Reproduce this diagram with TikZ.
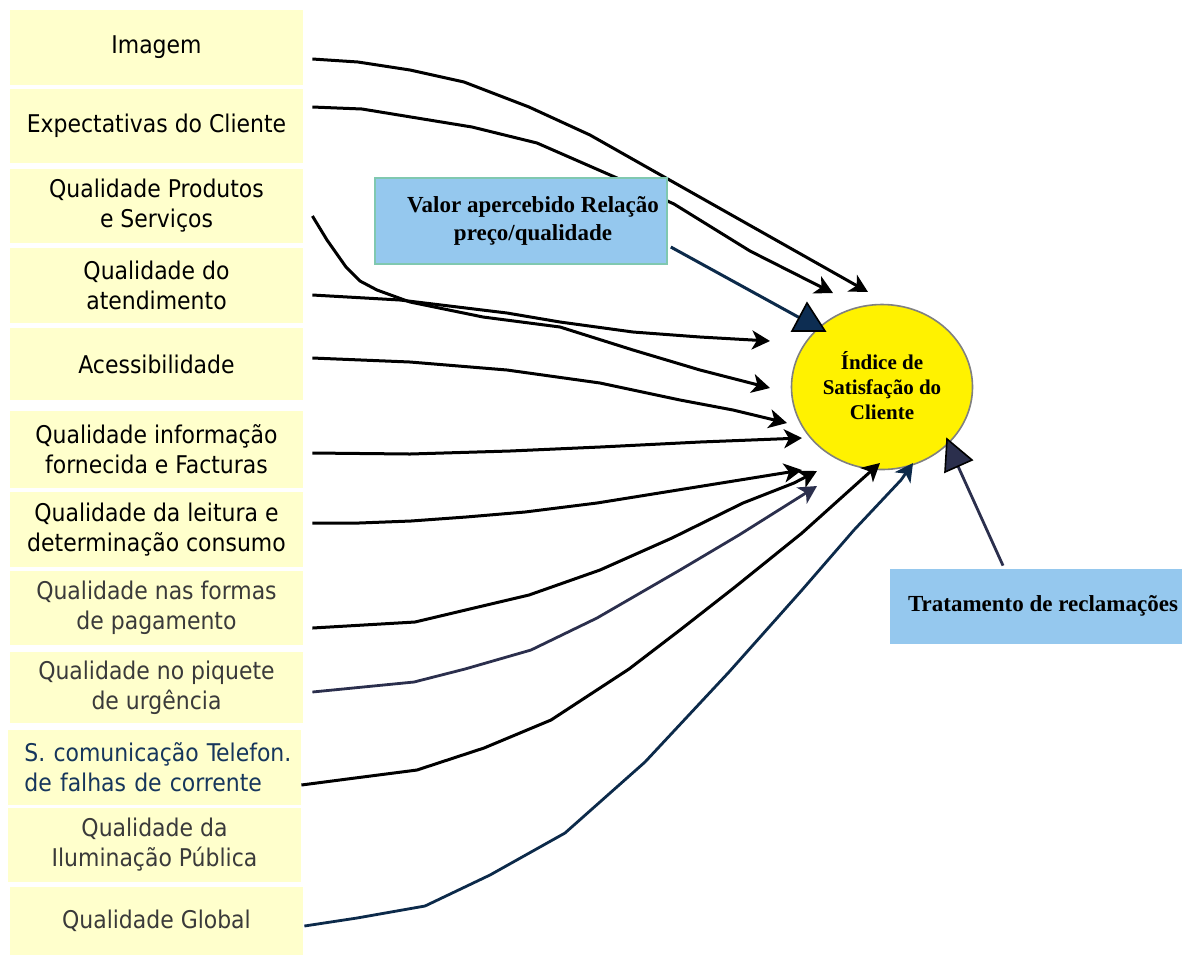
\documentclass[tikz,border=0pt]{standalone}
\usepackage{fontspec}
\usetikzlibrary{arrows.meta,shapes.geometric}
\newfontfamily\boxfont{DejaVu Sans Condensed}
\newfontfamily\serifb{Liberation Serif}
\definecolor{boxyellow}{HTML}{FFFFCC}
\definecolor{boxblue}{HTML}{95C8EE}
\definecolor{boxedge}{HTML}{80C8B0}
\definecolor{txtgray}{HTML}{3A3A3A}
\definecolor{txtnavy}{HTML}{16365C}
\definecolor{linenavy}{HTML}{0C2A4A}
\definecolor{lineslate}{HTML}{2B2F4D}
\definecolor{tipnavy}{HTML}{0D2D52}
\tikzset{
  ibox/.style={fill=boxyellow, draw=none, inner sep=0pt, minimum width=146.5pt,
    font=\boxfont\fontsize{12.2}{15}\selectfont, align=center, text=black},
  bluebox/.style={fill=boxblue, inner sep=0pt, align=center,
    font=\serifb\bfseries\fontsize{11.5}{14}\selectfont},
  link/.style={line width=1.5pt, line join=round,
    -{Stealth[length=9pt,width=9.5pt,inset=2.5pt]}},
  tipshape/.style={draw=black, line width=0.8pt, line join=miter},
}
\begin{document}
\begin{tikzpicture}[x=0.5pt,y=-0.5pt]
\fill[white] (0,0) rectangle (1182,955);
\useasboundingbox (0,0) rectangle (1182,955);

% factor boxes on the left
\node[ibox, minimum height=37.5pt] (imagem) at (156.5,47.5) {Imagem};
\node[ibox, minimum height=37pt] (expect) at (156.5,126) {Expectativas do Cliente};
\node[ibox, minimum height=37pt] (produtos) at (156.5,206) {Qualidade Produtos\\e Serviços};
\node[ibox, minimum height=37.5pt] (atend) at (156.5,285.5) {Qualidade do\\atendimento};
\node[ibox, minimum height=36pt] (acess) at (156.5,364) {Acessibilidade};
\node[ibox, minimum height=38.5pt] (info) at (156.5,449.5) {Qualidade informação\\fornecida e Facturas};
\node[ibox, minimum height=37.5pt] (leitura) at (156.5,529.5) {Qualidade da leitura e\\determinação consumo};
\node[ibox, minimum height=37pt, text=txtgray] (pagam) at (156.5,608) {Qualidade nas formas\\de pagamento};
\node[ibox, minimum height=35.5pt, text=txtgray] (piquete) at (156.5,687.5) {Qualidade no piquete\\de urgência};
\node[ibox, minimum height=37.5pt, text=txtnavy, align=left, text width=130pt] (scom) at (154.5,767.5)
      {\mbox{S. comunicação Telefon.}\\\mbox{de falhas de corrente}};
\node[ibox, minimum height=37pt, text=txtgray] (ilum) at (154.5,845) {Qualidade da\\Iluminação Pública};
\node[ibox, minimum height=34pt, text=txtgray] (global) at (156.5,921) {Qualidade Global};

% central index
\node[ellipse, draw=gray, line width=0.8pt, fill=yellow, inner sep=0pt,
      minimum width=90.5pt, minimum height=82.5pt] (isc) at (882,387) {};
\node[align=center, inner sep=0pt, font=\serifb\bfseries\fontsize{10.5}{12.5}\selectfont]
      (isctext) at (882,386) {Índice de\\Satisfação do\\Cliente};

% complaints box
\node[bluebox, draw=none, minimum width=153pt, minimum height=37.5pt] (trat) at (1043,606) {Tratamento de reclamações};

% arrow end points around the index
\coordinate (e1) at ([shift={(-14,-95)}]isc.center);
\coordinate (e2) at ([shift={(-49,-94)}]isc.center);
\coordinate (e3) at ([shift={(-112,1)}]isc.center);
\coordinate (e4) at ([shift={(-112,-46)}]isc.center);
\coordinate (e5) at ([shift={(-95,36)}]isc.center);
\coordinate (e6) at ([shift={(-80,51)}]isc.center);
\coordinate (e7) at ([shift={(-80,83)}]isc.center);
\coordinate (e8) at ([shift={(-65,84)}]isc.center);
\coordinate (e9) at ([shift={(-65,99)}]isc.center);
\coordinate (e10) at ([shift={(-2,76)}]isc.center);
\coordinate (e12) at ([shift={(31,76)}]isc.center);

% factor connectors
\draw[link] ([shift={(9,11.5)}]imagem.east) -- (358,62) -- (410,70) -- (464,82) -- (529,107)
  -- (590,135) -- (643,165) -- (e1);
\draw[link] ([shift={(9,-19)}]expect.east) -- (362,109) -- (472,127) -- (537,143) -- (617,178)
  -- (674,204) -- (750,251) -- (e2);
\draw[link] ([shift={(9,10)}]produtos.east) -- (327,240) -- (346,267) -- (360,281) -- (377,290)
  -- (410,302) -- (483,317) -- (560,327) -- (633,350) -- (700,370) -- (e3);
\draw[link] ([shift={(9,9.5)}]atend.east) -- (400,300) -- (507,313) -- (560,322) -- (633,332)
  -- (700,337) -- (e4);
\draw[link] ([shift={(9,-6)}]acess.east) -- (410,362) -- (507,370) -- (600,383) -- (680,400)
  -- (733,410) -- (e5);
\draw[link] ([shift={(9,3.5)}]info.east) -- (410,454) -- (510,451) -- (600,447) -- (700,442) -- (e6);
\draw[link] ([shift={(9,-6.5)}]leitura.east) -- (359,523) -- (411,521) -- (466,517) -- (525,512)
  -- (597,503) -- (684,489) -- (e7);
\draw[link] ([shift={(9,20)}]pagam.east) -- (415,622) -- (474,608) -- (529,595) -- (600,570)
  -- (672,538) -- (743,503) -- (794,483) -- (e8);
\draw[link, draw=lineslate, line width=1.4pt] ([shift={(9,4.5)}]piquete.east) -- (414,682) -- (465,669)
  -- (531,650) -- (597,618) -- (680,570) -- (739,535) -- (e9);
\draw[link] ([shift={(0,17.5)}]scom.east) -- (355,778) -- (417,770) -- (484,748) -- (551,720)
  -- (629,669) -- (680,630) -- (735,587) -- (802,533) -- (861,480) -- (e10);
\draw[link, draw=linenavy, line width=1.4pt] ([shift={(1,5)}]global.east) -- (357,918) -- (425,906)
  -- (490,875) -- (565,833) -- (645,762) -- (729,672) -- (802,590) -- (854,530) -- (901,480) -- (e12);

% perceived value box, drawn over the lines passing behind it
\node[bluebox, draw=boxedge, line width=0.8pt, minimum width=146pt, minimum height=43pt]
      (valor) at (521,221) {\hspace*{12pt}Valor apercebido Relação\\\hspace*{12pt}preço/qualidade};

% connector from perceived value
\coordinate (vtip) at (800,318);
\draw[linenavy, line width=1.5pt] ([shift={(3,26)}]valor.east) -- (vtip);
\filldraw[tipshape, fill=tipnavy] (807,303) -- (792,331) -- (825,331) -- cycle;

% connector from complaints handling
\coordinate (ttip) at (957,464);
\draw[lineslate, line width=1.4pt] ([shift={(-40,-2.5)}]trat.north) -- (ttip);
\filldraw[tipshape, fill=lineslate] (947,439) -- (972,460) -- (945,472) -- cycle;
\end{tikzpicture}
\end{document}
